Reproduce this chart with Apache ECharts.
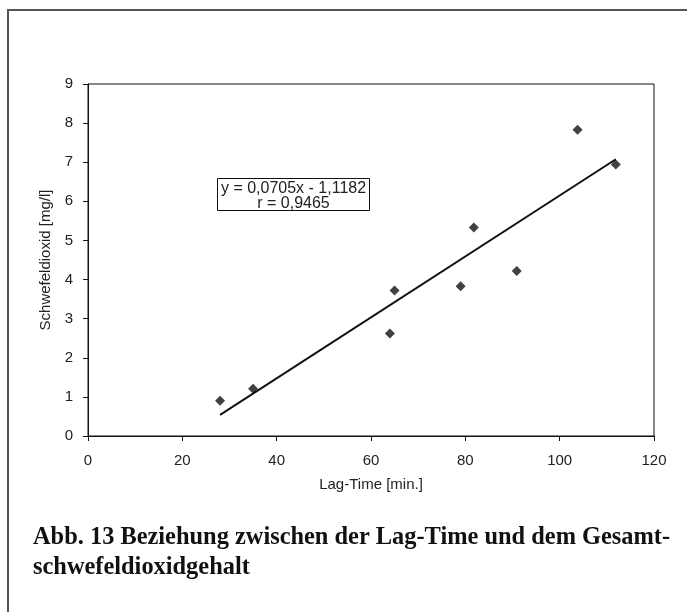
<!DOCTYPE html>
<html>
<head>
<meta charset="utf-8">
<script src="https://cdn.jsdelivr.net/npm/echarts@6/dist/echarts.min.js"></script>
<style>
html,body{margin:0;padding:0;background:#fff;}
#chart{width:687px;height:612px;}
</style>
</head>
<body>
<div id="chart"></div>
<script>
// Data
const lagTime = [28, 35, 64, 65, 79, 81.8, 90.9, 103.8, 111.9];
const so2 = [0.9, 1.21, 2.62, 3.72, 3.83, 5.33, 4.22, 7.83, 6.94];
const xTicks = [0, 20, 40, 60, 80, 100, 120];
const yTicks = [0, 1, 2, 3, 4, 5, 6, 7, 8, 9];
const equationText = ['y = 0,0705x - 1,1182', 'r = 0,9465'];
const xTitle = 'Lag-Time [min.]';
const yTitle = 'Schwefeldioxid [mg/l]';
const captionLines = ['Abb. 13 Beziehung zwischen der Lag-Time und dem Gesamt-', 'schwefeldioxidgehalt'];

// least-squares trend line from the data
const n = lagTime.length;
const mx = lagTime.reduce((a, b) => a + b, 0) / n;
const my = so2.reduce((a, b) => a + b, 0) / n;
let sxy = 0, sxx = 0;
for (let i = 0; i < n; i++) { sxy += (lagTime[i] - mx) * (so2[i] - my); sxx += (lagTime[i] - mx) ** 2; }
const slope = sxy / sxx, icpt = my - slope * mx;
const xMin = Math.min(...lagTime), xMax = Math.max(...lagTime);
const trend = [[xMin, icpt + slope * xMin], [xMax, icpt + slope * xMax]];

const font = '"Liberation Sans", Arial, sans-serif';
const serif = '"Liberation Serif", "Times New Roman", serif';
const chart = echarts.init(document.getElementById('chart'), null, {renderer: 'canvas'});
chart.setOption({
  animation: false,
  backgroundColor: '#fff',
  grid: {left: 88, right: 33, top: 84, bottom: 176, show: true, borderColor: '#111', borderWidth: 1, backgroundColor: 'transparent'},
  xAxis: {
    type: 'value', min: xTicks[0], max: xTicks[xTicks.length - 1], interval: xTicks[1] - xTicks[0],
    name: xTitle, nameLocation: 'middle', nameGap: 41,
    nameTextStyle: {fontFamily: font, fontSize: 15, color: '#222'},
    axisLine: {lineStyle: {color: '#111', width: 1}},
    axisTick: {show: true, inside: false, length: 5, lineStyle: {color: '#111'}},
    axisLabel: {fontFamily: font, fontSize: 15, color: '#222', margin: 17},
    splitLine: {show: false}
  },
  yAxis: {
    type: 'value', min: yTicks[0], max: yTicks[yTicks.length - 1], interval: yTicks[1] - yTicks[0],
    name: yTitle, nameLocation: 'middle', nameGap: 28, nameRotate: 90,
    nameTextStyle: {fontFamily: font, fontSize: 15, color: '#222'},
    axisLine: {lineStyle: {color: '#111', width: 1}},
    axisTick: {show: true, inside: false, length: 5, lineStyle: {color: '#111'}},
    axisLabel: {fontFamily: font, fontSize: 15, color: '#222', margin: 15},
    splitLine: {show: false}
  },
  series: [
    {type: 'line', data: trend, symbol: 'none', lineStyle: {color: '#111', width: 2}, z: 2},
    {type: 'scatter', data: lagTime.map((x, i) => [x, so2[i]]), symbol: 'diamond', symbolSize: 10, itemStyle: {color: '#111'}, z: 3}
  ],
  graphic: [
    {type: 'rect', shape: {x: 8, y: 10, width: 720, height: 700}, style: {fill: 'none', stroke: '#555', lineWidth: 2}, silent: true},
    {type: 'group', left: 217, top: 178, children: [
      {type: 'rect', shape: {x: 0, y: 0, width: 152, height: 32}, style: {fill: '#fff', stroke: '#111', lineWidth: 1}},
      {type: 'text', x: 76, y: 10, style: {text: equationText[0], font: '16px ' + font, fill: '#222', textAlign: 'center', textVerticalAlign: 'middle'}},
      {type: 'text', x: 76, y: 25, style: {text: equationText[1], font: '16px ' + font, fill: '#222', textAlign: 'center', textVerticalAlign: 'middle'}}
    ]},
    {type: 'text', x: 33, y: 538, style: {text: captionLines[0], font: 'bold 24.4px ' + serif, fill: '#111', textVerticalAlign: 'middle'}},
    {type: 'text', x: 33, y: 568, style: {text: captionLines[1], font: 'bold 24.4px ' + serif, fill: '#111', textVerticalAlign: 'middle'}}
  ]
});
</script>
</body>
</html>
